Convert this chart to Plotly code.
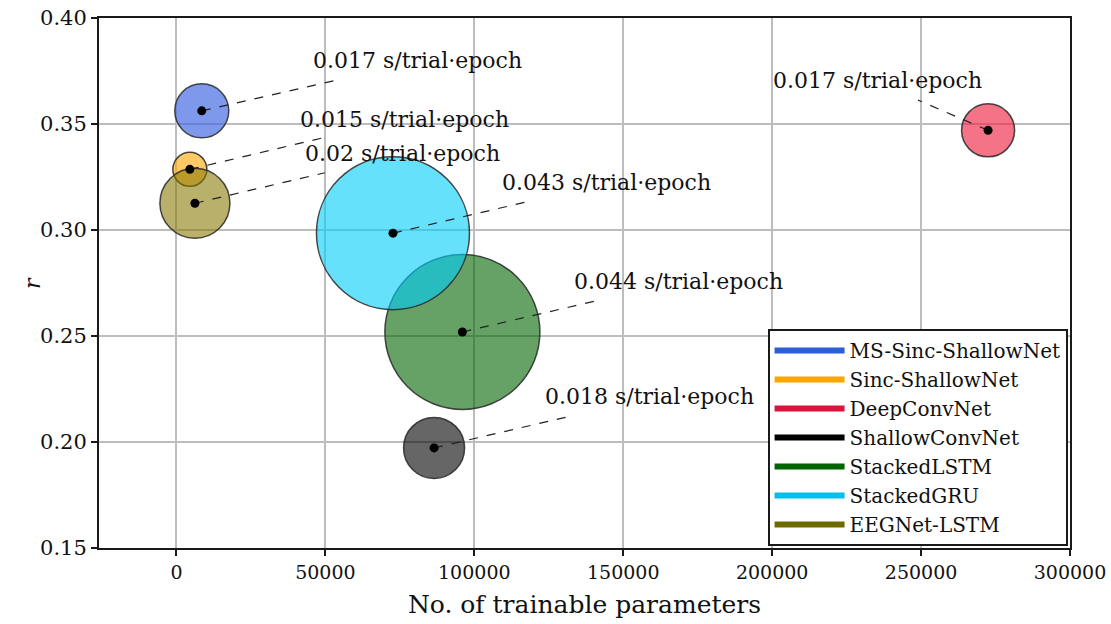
import plotly.graph_objects as go

# ---------------- data ----------------
models = ["MS-Sinc-ShallowNet", "Sinc-ShallowNet", "DeepConvNet", "ShallowConvNet",
          "StackedLSTM", "StackedGRU", "EEGNet-LSTM"]
trainable_params = [8500, 4500, 272500, 86500, 96000, 72700, 6200]
r_values = [0.3562, 0.3286, 0.3470, 0.1972, 0.2519, 0.2985, 0.3126]
time_per_trial_epoch = [0.017, 0.015, 0.017, 0.018, 0.044, 0.043, 0.02]

x_ticks = [0, 50000, 100000, 150000, 200000, 250000, 300000]
y_ticks = [0.15, 0.20, 0.25, 0.30, 0.35, 0.40]

# ---------------- styling / layout helpers ----------------
line_colors = ["#2a5fd8", "#ffa500", "#dc143c", "#000000", "#006400", "#00bfe8", "#6e6a00"]
fill_colors = ["rgba(65,105,225,0.68)", "rgba(255,165,0,0.6)", "rgba(240,40,70,0.65)",
               "rgba(0,0,0,0.6)", "rgba(0,100,0,0.6)", "rgba(0,205,250,0.6)",
               "rgba(135,120,0,0.58)"]
bubble_diam = [54, 34, 53, 61, 155, 153, 70]
# label text anchor (left, middle) and dashed line end, in data units
label_pos = [(45130, 0.3801), (40870, 0.3522), (199730, 0.3707), (123090, 0.2213),
             (132950, 0.2757), (108560, 0.3222), (42450, 0.3362)]
line_end = [(53760, 0.3707), (49830, 0.3437), (248930, 0.3613), (132050, 0.2121),
            (141540, 0.2668), (117950, 0.3134), (49830, 0.3270)]

FONT = "DejaVu Serif"

fig = go.Figure()

# bubbles
for i, m in enumerate(models):
    fig.add_trace(go.Scatter(
        x=[trainable_params[i]], y=[r_values[i]], mode="markers",
        marker=dict(size=bubble_diam[i], color=fill_colors[i],
                    line=dict(color="rgba(40,40,40,0.85)", width=1.5)),
        showlegend=False, hoverinfo="skip"))

# dashed connector lines
for i, m in enumerate(models):
    fig.add_trace(go.Scatter(
        x=[trainable_params[i], line_end[i][0]], y=[r_values[i], line_end[i][1]],
        mode="lines", line=dict(color="#222222", width=1.2, dash="dash"),
        showlegend=False, hoverinfo="skip"))

# centre dots
fig.add_trace(go.Scatter(x=trainable_params, y=r_values, mode="markers",
                         marker=dict(size=9, color="black"), showlegend=False,
                         hoverinfo="skip"))

# legend entries
for i, m in enumerate(models):
    fig.add_trace(go.Scatter(x=[None], y=[None], mode="lines", name=m,
                             line=dict(color=line_colors[i], width=6)))

# labels
for i, t in enumerate(time_per_trial_epoch):
    fig.add_annotation(x=label_pos[i][0], y=label_pos[i][1],
                       text=f"{t:g} s/trial·epoch", showarrow=False,
                       xanchor="left", yanchor="middle",
                       font=dict(family=FONT, size=22, color="#111"))

# y-axis title
fig.add_annotation(xref="paper", yref="paper", x=-0.069, y=0.5,
                   text="<i>r</i>", showarrow=False, textangle=-90,
                   xanchor="center", yanchor="middle",
                   font=dict(family=FONT, size=22, color="#111"))

axis_common = dict(showline=True, linecolor="#1a1a1a", linewidth=2, mirror=True,
                   ticks="outside", ticklen=6, tickwidth=1.5, tickcolor="#1a1a1a",
                   showgrid=True, gridcolor="#bdbdbd", gridwidth=1.5, zeroline=False,
                   automargin=False)

fig.update_layout(
    width=1111, height=624,
    margin=dict(l=99, r=41, t=18, b=76),
    paper_bgcolor="white", plot_bgcolor="white",
    xaxis=dict(range=[-26000, 300000], tickvals=x_ticks,
               ticktext=[str(v) for v in x_ticks],
               tickfont=dict(family=FONT, size=19, color="#111"),
               title=dict(text="No. of trainable parameters", standoff=14,
                          font=dict(family=FONT, size=25, color="#111")),
               **axis_common),
    yaxis=dict(range=[0.15, 0.40], tickvals=y_ticks,
               ticktext=[f"{v:.2f}" for v in y_ticks],
               tickfont=dict(family=FONT, size=21, color="#111"),
               **axis_common),
    legend=dict(x=0.9975, y=0.004, xanchor="right", yanchor="bottom",
                bgcolor="white", bordercolor="#1a1a1a", borderwidth=2,
                font=dict(family=FONT, size=20, color="#111"),
                itemwidth=70, tracegroupgap=0),
    showlegend=True,
)

fig.write_html("out.html")
